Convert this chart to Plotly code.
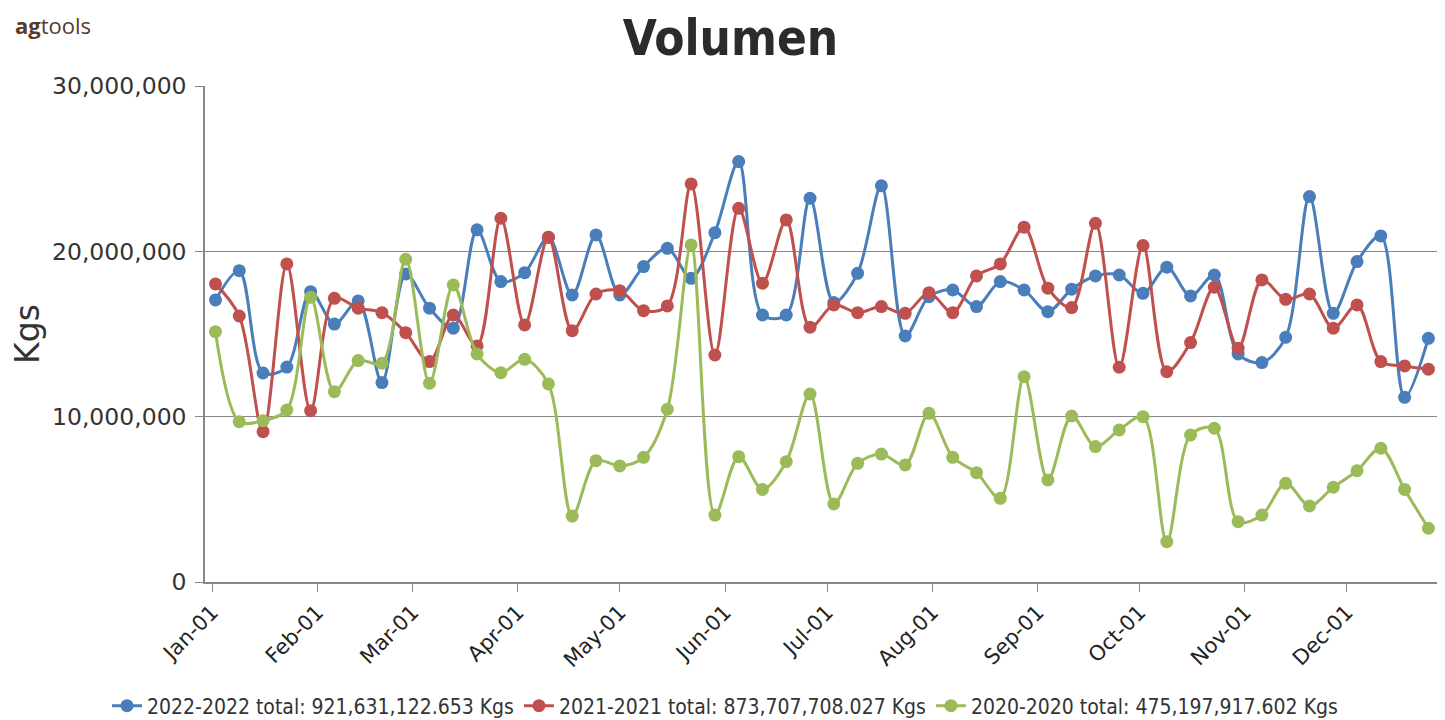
import plotly.graph_objects as go
import pandas as pd

weeks = pd.date_range("2022-01-02", periods=52, freq="7D")

v2022 = [17.06, 18.83, 12.64, 13.0, 17.56, 15.6, 17.0, 12.06, 18.63, 16.56,
         15.35, 21.3, 18.17, 18.71, 20.85, 17.36, 20.99, 17.36, 19.08, 20.18,
         18.37, 21.13, 25.43, 16.15, 16.15, 23.21, 16.9, 18.67, 23.96, 14.88,
         17.26, 17.66, 16.66, 18.17, 17.66, 16.35, 17.71, 18.51, 18.57, 17.46,
         19.04, 17.3, 18.57, 13.79, 13.27, 14.8, 23.31, 16.25, 19.38, 20.93,
         11.17, 14.74]
v2021 = [18.03, 16.09, 9.09, 19.24, 10.36, 17.16, 16.56, 16.29, 15.08, 13.33,
         16.15, 14.28, 22.0, 15.55, 20.85, 15.2, 17.42, 17.62, 16.41, 16.7,
         24.08, 13.73, 22.6, 18.07, 21.9, 15.41, 16.76, 16.29, 16.66, 16.25,
         17.5, 16.29, 18.51, 19.24, 21.46, 17.77, 16.6, 21.7, 12.99, 20.35,
         12.72, 14.48, 17.83, 14.14, 18.27, 17.1, 17.42, 15.35, 16.76, 13.33,
         13.07, 12.87]
v2020 = [15.14, 9.7, 9.76, 10.4, 17.22, 11.51, 13.39, 13.23, 19.52, 12.02,
         17.97, 13.79, 12.66, 13.47, 11.98, 3.99, 7.34, 7.02, 7.54, 10.45,
         20.39, 4.05, 7.58, 5.6, 7.28, 11.37, 4.72, 7.18, 7.74, 7.08,
         10.2, 7.54, 6.61, 5.06, 12.42, 6.17, 10.04, 8.19, 9.2, 10.0,
         2.44, 8.89, 9.3, 3.65, 4.05, 5.97, 4.6, 5.73, 6.73, 8.09,
         5.6, 3.25]

series_names = ["2022-2022 total: 921,631,122.653 Kgs",
                "2021-2021 total: 873,707,708.027 Kgs",
                "2020-2020 total: 475,197,917.602 Kgs"]
series_vals = [v2022, v2021, v2020]
colors = ["#4A7EBB", "#C0504D", "#9BBB59"]

fig = go.Figure()
for name, vals, c in zip(series_names, series_vals, colors):
    fig.add_trace(go.Scatter(
        x=weeks, y=[v * 1e6 for v in vals], name=name,
        mode="lines+markers",
        line=dict(color=c, width=3, shape="spline", smoothing=0.9),
        marker=dict(color=c, size=13),
    ))

# page has an 8px body margin; margins below compensate for it
PL, PT, PW, PH = 197, 78, 1235, 496

fig.update_layout(
    width=1445, height=720,
    paper_bgcolor="white", plot_bgcolor="white",
    margin=dict(l=PL, r=1445 - PL - PW, t=PT, b=720 - PT - PH, autoexpand=False),
    title=dict(text="<b>Volumen</b>", x=0.5, xanchor="center", y=1 - 30 / 720, yanchor="middle",
               font=dict(family="DejaVu Sans Condensed", size=49, color="#2B2B2B")),
    showlegend=True,
    legend=dict(orientation="h", x=(717 - PL) / PW, xanchor="center",
                y=-(698 - PT - PH) / PH, yanchor="middle",
                font=dict(family="DejaVu Sans Condensed", size=21, color="#333333"),
                itemwidth=30, tracegroupgap=0),
)
fig.add_annotation(text="<b>ag</b>tools", xref="paper", yref="paper",
                   x=(5 - PL) / PW, y=1 + (PT - 17) / PH, xanchor="left", yanchor="middle",
                   showarrow=False,
                   font=dict(family="Open Sans", size=22, color="#5A3A28"))

fig.update_xaxes(
    type="date", automargin=False,
    range=["2021-12-29 22:00", "2022-12-28 10:00"],
    dtick="M1", tick0="2022-01-01", tickformat="%b-%d",
    tickangle=-45,
    tickfont=dict(family="DejaVu Sans", size=21, color="#222222"),
    ticks="outside", ticklen=8, tickcolor="#888888",
    showline=True, linecolor="#888888", linewidth=1.5,
    showgrid=False, zeroline=False,
)
fig.update_yaxes(
    automargin=False,
    range=[0, 30e6], tickvals=[0, 10e6, 20e6, 30e6],
    tickformat=",d",
    tickfont=dict(family="DejaVu Sans", size=23.5, color="#333333"),
    title=dict(text="Kgs", font=dict(family="DejaVu Sans", size=33, color="#333333"), standoff=152),
    ticks="outside", ticklen=8, tickcolor="#888888", ticklabelstandoff=4,
    showline=True, linecolor="#888888", linewidth=1.5,
    showgrid=True, gridcolor="#888888", gridwidth=1.2, zeroline=False,
)

fig.write_html("out.html")
